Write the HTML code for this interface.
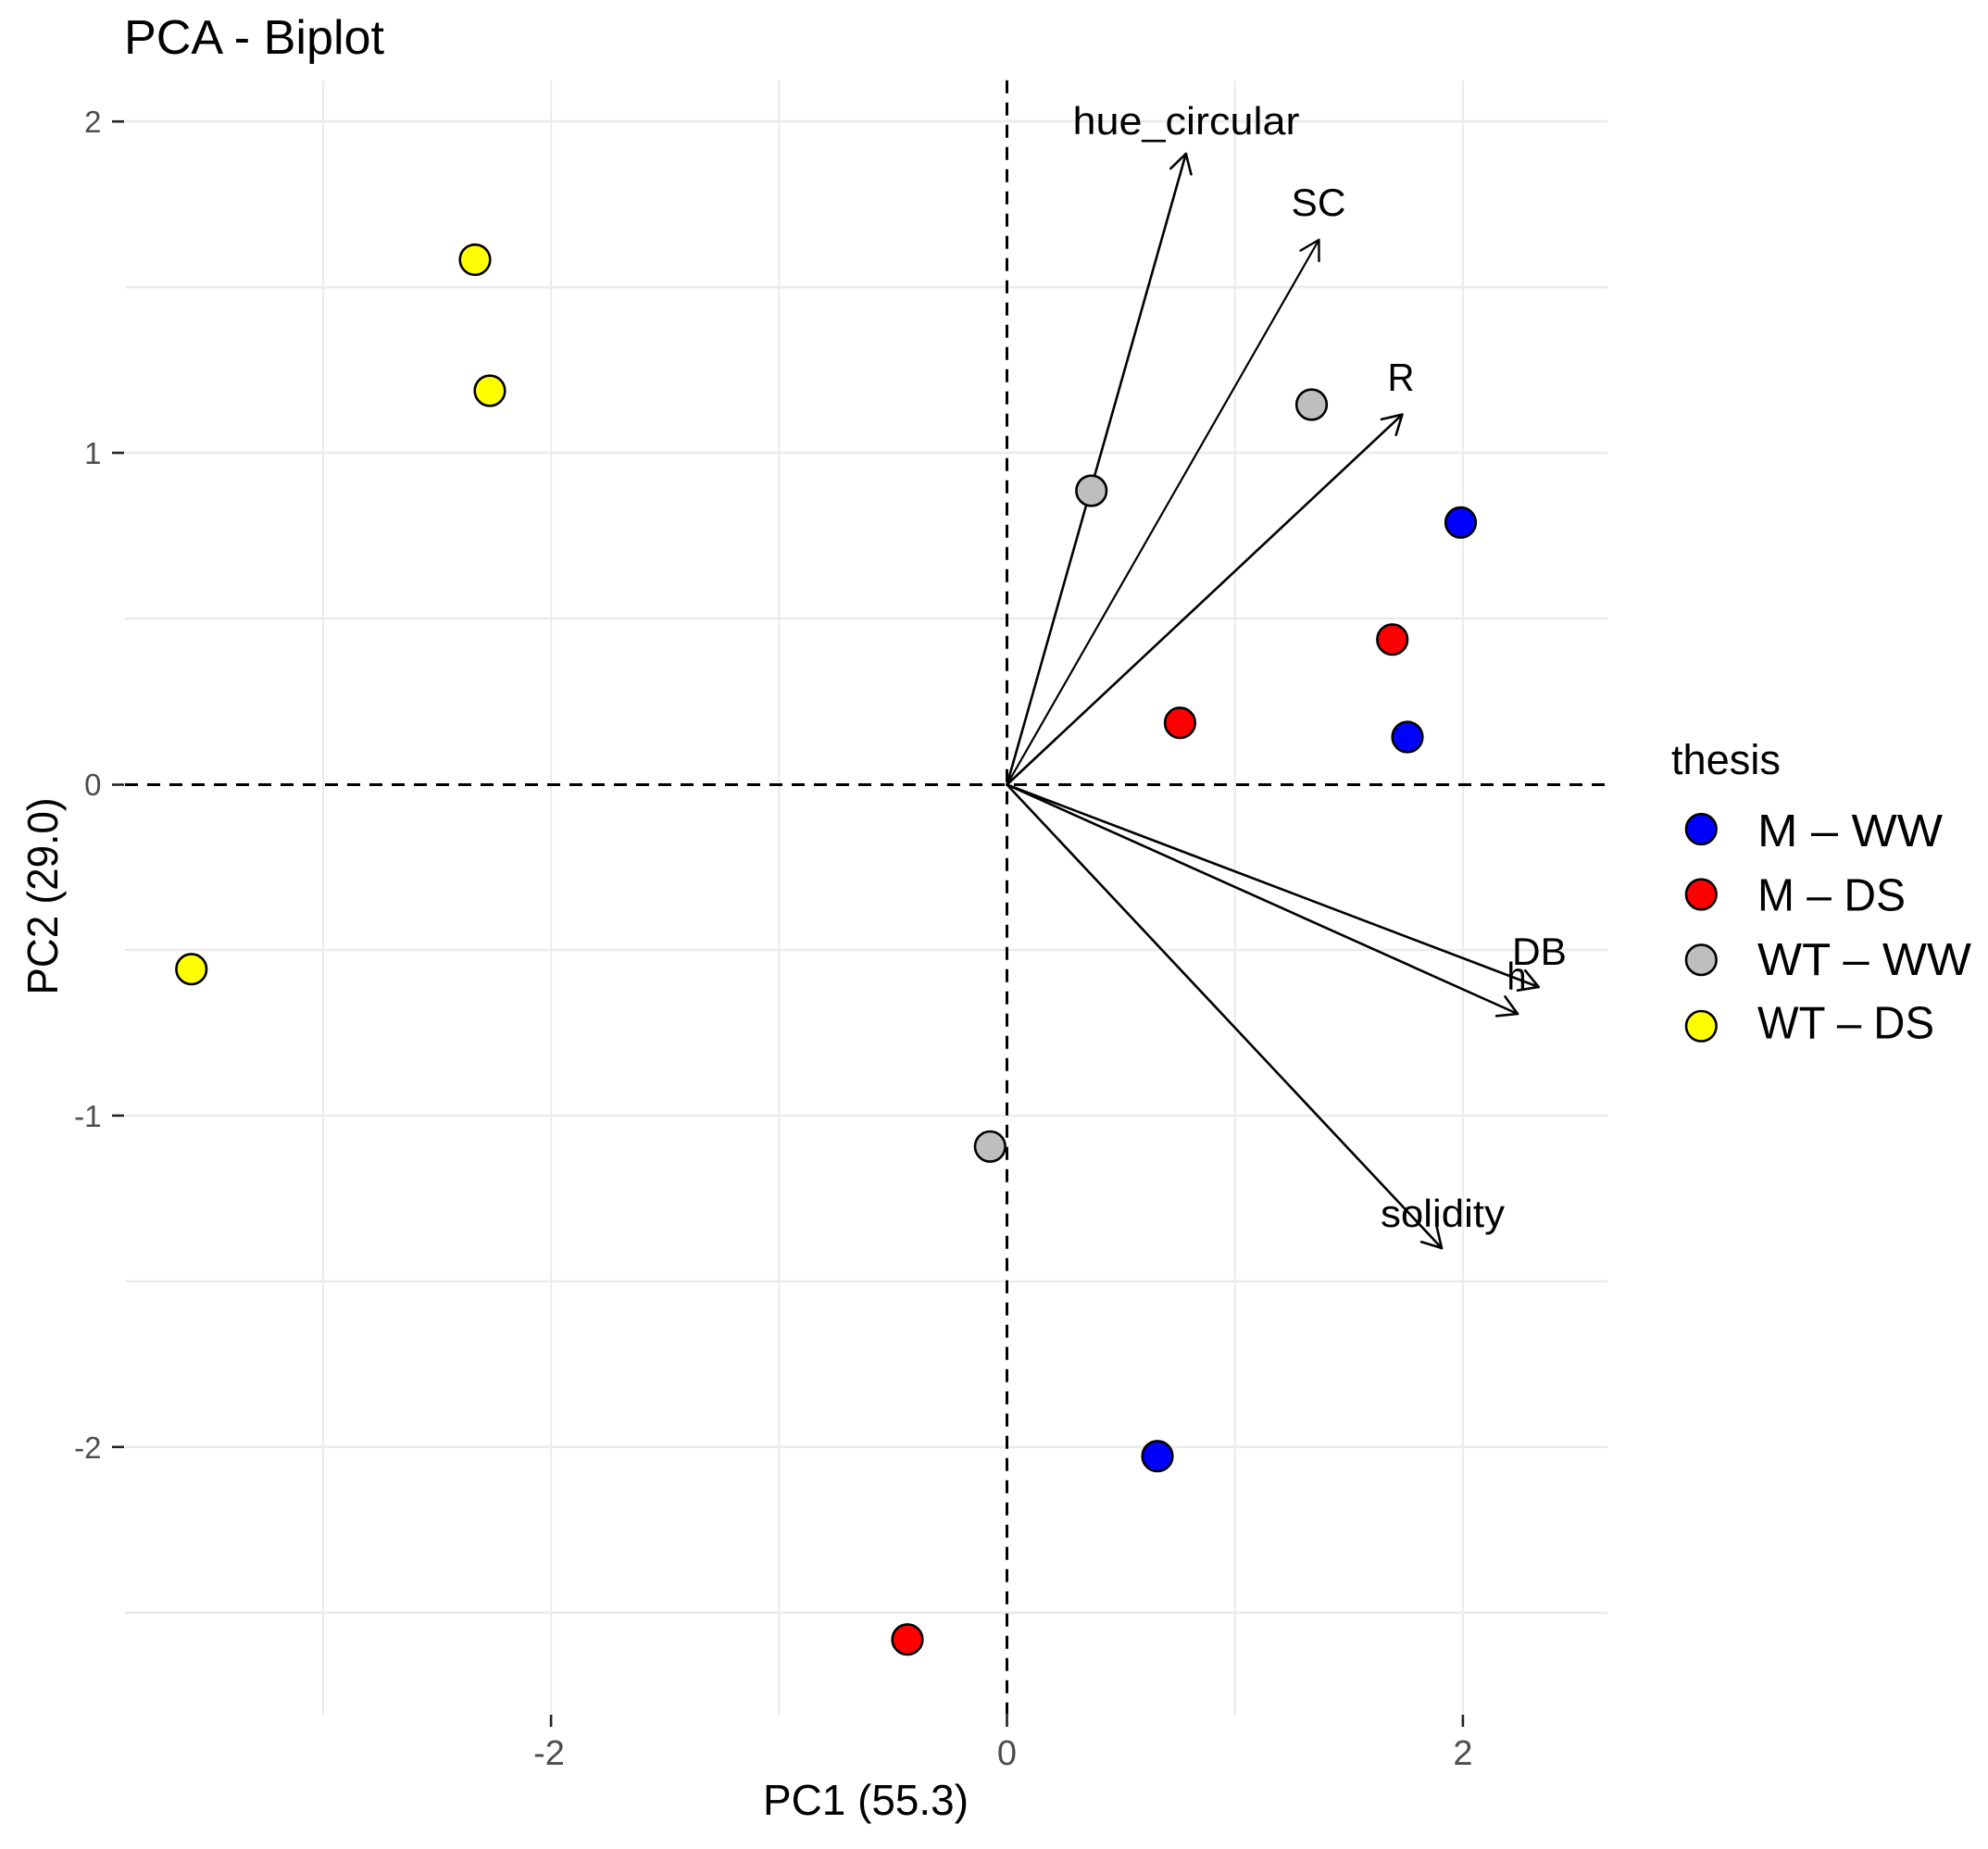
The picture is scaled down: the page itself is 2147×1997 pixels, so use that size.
<!DOCTYPE html>
<html>
<head>
<meta charset="utf-8">
<style>
  html, body { margin: 0; padding: 0; background: #ffffff; }
  svg { display: block; }
  text { font-family: "Liberation Sans", Arial, sans-serif; }
</style>
</head>
<body>
<svg width="2147" height="1997" viewBox="0 0 2147 1997" xmlns="http://www.w3.org/2000/svg">
  <rect x="0" y="0" width="2147" height="1997" fill="#ffffff"/>

  <!-- Title -->
  <text x="134" y="58" font-size="52" fill="#000" textLength="281" lengthAdjust="spacingAndGlyphs">PCA - Biplot</text>

  <!-- Grid lines: horizontal -->
  <g stroke="#EBEBEB" stroke-width="2.6">
    <line x1="135" y1="131.2" x2="1736" y2="131.2"/>
    <line x1="135" y1="310.2" x2="1736" y2="310.2"/>
    <line x1="135" y1="489.1" x2="1736" y2="489.1"/>
    <line x1="135" y1="668.1" x2="1736" y2="668.1"/>
    <line x1="135" y1="1026" x2="1736" y2="1026"/>
    <line x1="135" y1="1204.9" x2="1736" y2="1204.9"/>
    <line x1="135" y1="1383.9" x2="1736" y2="1383.9"/>
    <line x1="135" y1="1562.8" x2="1736" y2="1562.8"/>
    <line x1="135" y1="1741.8" x2="1736" y2="1741.8"/>
  </g>
  <!-- Grid lines: vertical -->
  <g stroke="#EBEBEB" stroke-width="2.1">
    <line x1="349" y1="86.7" x2="349" y2="1851.7"/>
    <line x1="595.1" y1="86.7" x2="595.1" y2="1851.7"/>
    <line x1="841.3" y1="86.7" x2="841.3" y2="1851.7"/>
    <line x1="1333.7" y1="86.7" x2="1333.7" y2="1851.7"/>
    <line x1="1579.9" y1="86.7" x2="1579.9" y2="1851.7"/>
  </g>

  <!-- Dashed reference lines -->
  <g stroke="#000" stroke-width="3" stroke-dasharray="14 10" fill="none">
    <line x1="135" y1="847.5" x2="1736" y2="847.5"/>
    <line x1="1087.5" y1="86.7" x2="1087.5" y2="1851.7"/>
  </g>

  <!-- Axis ticks -->
  <g stroke="#222" stroke-width="2.6">
    <line x1="121" y1="131.2" x2="134" y2="131.2"/>
    <line x1="121" y1="489.1" x2="134" y2="489.1"/>
    <line x1="121" y1="847.5" x2="134" y2="847.5"/>
    <line x1="121" y1="1204.9" x2="134" y2="1204.9"/>
    <line x1="121" y1="1562.8" x2="134" y2="1562.8"/>
    <line x1="595.1" y1="1852" x2="595.1" y2="1865"/>
    <line x1="1087.5" y1="1852" x2="1087.5" y2="1865"/>
    <line x1="1579.9" y1="1852" x2="1579.9" y2="1865"/>
  </g>

  <!-- Y tick labels -->
  <g font-size="33" fill="#4D4D4D" text-anchor="end">
    <text x="109.5" y="143">2</text>
    <text x="109.5" y="501">1</text>
    <text x="109.5" y="859">0</text>
    <text x="109.5" y="1217">-1</text>
    <text x="109.5" y="1575">-2</text>
  </g>
  <!-- X tick labels -->
  <g font-size="38" fill="#4D4D4D" text-anchor="middle">
    <text x="593" y="1906">-2</text>
    <text x="1087.5" y="1906">0</text>
    <text x="1579.9" y="1906">2</text>
  </g>

  <!-- Axis titles -->
  <text x="935" y="1960" font-size="46" fill="#000" text-anchor="middle" textLength="222" lengthAdjust="spacingAndGlyphs">PC1 (55.3)</text>
  <text transform="translate(62,968) rotate(-90)" x="0" y="0" font-size="46" fill="#000" text-anchor="middle" textLength="213" lengthAdjust="spacingAndGlyphs">PC2 (29.0)</text>

  <!-- Arrows -->
  <g stroke="#000" stroke-width="2.6" fill="none" stroke-linecap="round" stroke-linejoin="round">
    <line x1="1087.5" y1="847.5" x2="1280.8" y2="166"/>
    <polyline points="1264.3,182 1280.8,166 1286.4,188.3"/>
    <line x1="1087.5" y1="847.5" x2="1424.4" y2="259" stroke-width="2.2"/>
    <polyline points="1404.5,270.6 1424.4,259 1424.5,282" stroke-width="2.4"/>
    <line x1="1087.5" y1="847.5" x2="1514.4" y2="447.7"/>
    <polyline points="1492,452.9 1514.4,447.7 1507.7,469.7"/>
    <line x1="1087.5" y1="847.5" x2="1661.7" y2="1066"/>
    <polyline points="1647.2,1048.2 1661.7,1066 1639,1069.7"/>
    <line x1="1087.5" y1="847.5" x2="1639" y2="1095"/>
    <polyline points="1625.5,1076.4 1639,1095 1616.1,1097.3"/>
    <line x1="1087.5" y1="847.5" x2="1557" y2="1348"/>
    <polyline points="1551.8,1325.6 1557,1348 1535,1341.3"/>
  </g>

  <!-- Variable labels -->
  <g font-size="42" fill="#000" text-anchor="middle">
    <text x="1281" y="145" textLength="245" lengthAdjust="spacingAndGlyphs">hue_circular</text>
    <text x="1424" y="233" textLength="59" lengthAdjust="spacingAndGlyphs">SC</text>
    <text x="1513" y="422" textLength="29" lengthAdjust="spacingAndGlyphs">R</text>
    <text x="1662.5" y="1042" textLength="59" lengthAdjust="spacingAndGlyphs">DB</text>
    <text x="1638" y="1069" textLength="21" lengthAdjust="spacingAndGlyphs">h</text>
    <text x="1558" y="1325" textLength="134" lengthAdjust="spacingAndGlyphs">solidity</text>
  </g>

  <!-- Points -->
  <g stroke="#000" stroke-width="2.6">
    <circle cx="513" cy="280.5" r="16.3" fill="#FFFF00"/>
    <circle cx="529" cy="422" r="16.3" fill="#FFFF00"/>
    <circle cx="206.7" cy="1046.7" r="16.3" fill="#FFFF00"/>
    <circle cx="1178.7" cy="530" r="16.3" fill="#BEBEBE"/>
    <circle cx="1416.5" cy="437" r="16.3" fill="#BEBEBE"/>
    <circle cx="1069.3" cy="1238.3" r="16.3" fill="#BEBEBE"/>
    <circle cx="1577.5" cy="564.3" r="16.3" fill="#0000FF"/>
    <circle cx="1520" cy="796" r="16.3" fill="#0000FF"/>
    <circle cx="1250" cy="1572.7" r="16.3" fill="#0000FF"/>
    <circle cx="1503.7" cy="690.7" r="16.3" fill="#FF0000"/>
    <circle cx="1274.4" cy="780.7" r="16.3" fill="#FF0000"/>
    <circle cx="980" cy="1770.7" r="16.3" fill="#FF0000"/>
  </g>

  <!-- Legend -->
  <text x="1805" y="836" font-size="45" fill="#000" textLength="118" lengthAdjust="spacingAndGlyphs">thesis</text>
  <g stroke="#000" stroke-width="2.6">
    <circle cx="1837.3" cy="895.5" r="16.3" fill="#0000FF"/>
    <circle cx="1837.3" cy="966" r="16.3" fill="#FF0000"/>
    <circle cx="1837.3" cy="1036.7" r="16.3" fill="#BEBEBE"/>
    <circle cx="1837.3" cy="1108.3" r="16.3" fill="#FFFF00"/>
  </g>
  <g font-size="49" fill="#000">
    <text x="1898" y="914" textLength="200" lengthAdjust="spacingAndGlyphs">M – WW</text>
    <text x="1898" y="983.5" textLength="160" lengthAdjust="spacingAndGlyphs">M – DS</text>
    <text x="1898" y="1053" textLength="231" lengthAdjust="spacingAndGlyphs">WT – WW</text>
    <text x="1898" y="1121.5" textLength="191" lengthAdjust="spacingAndGlyphs">WT – DS</text>
  </g>
</svg>
</body>
</html>
